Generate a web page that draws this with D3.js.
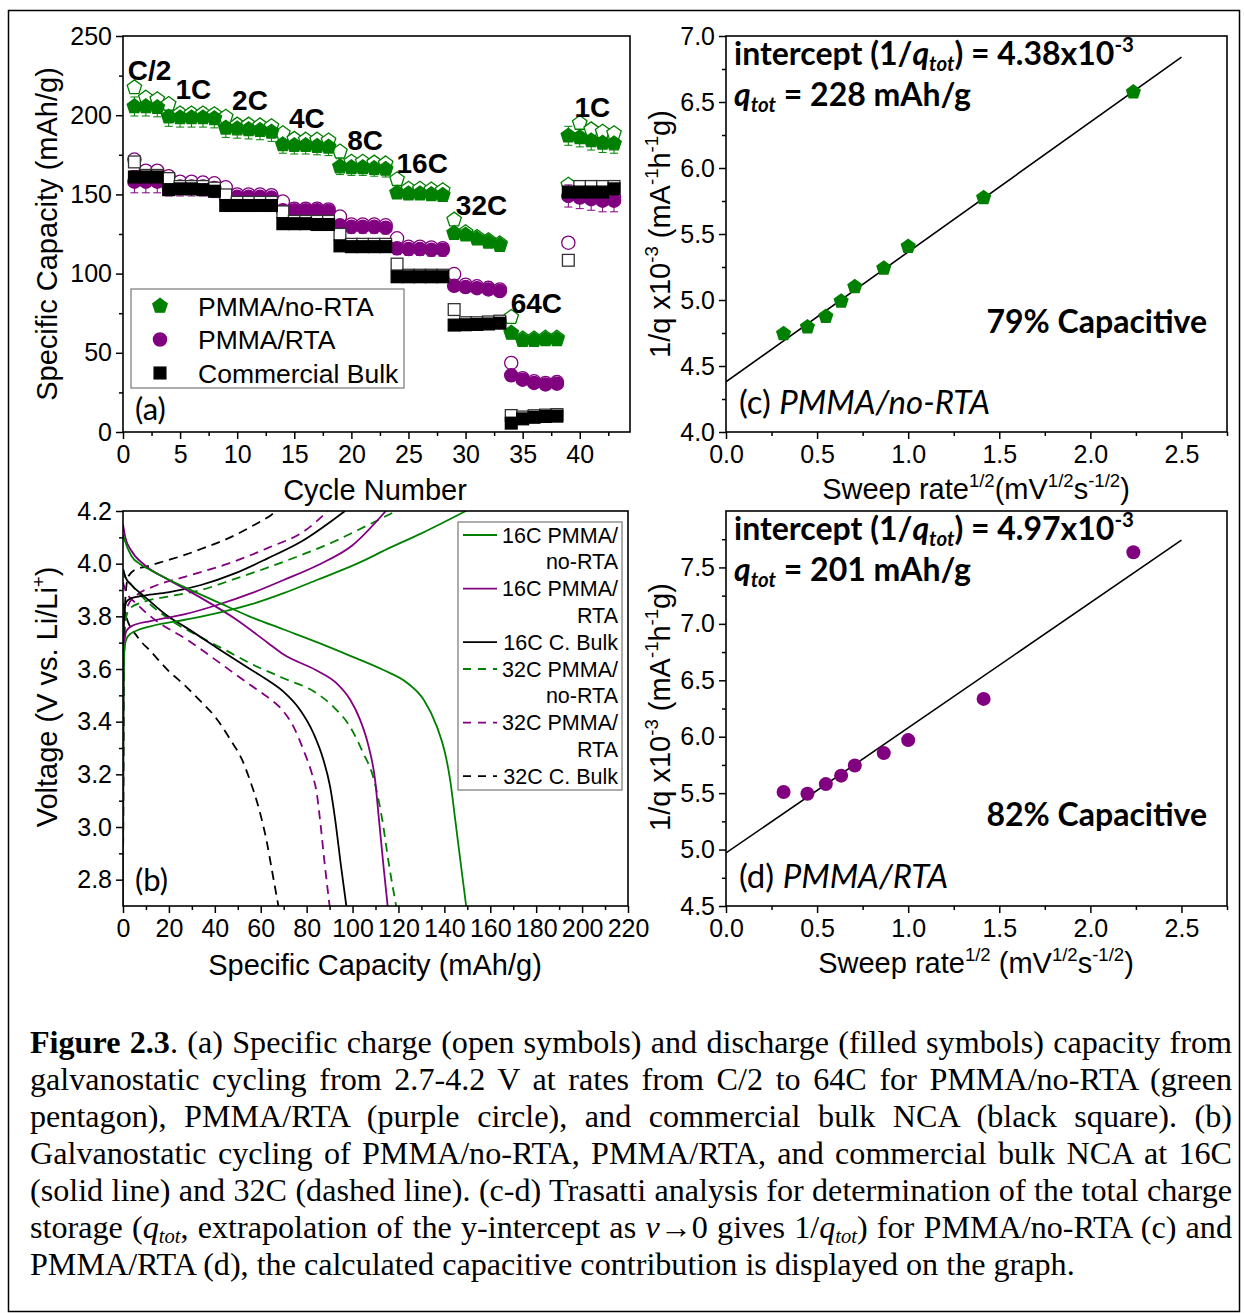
<!DOCTYPE html>
<html><head><meta charset="utf-8">
<script src="https://cdn.jsdelivr.net/npm/d3@7"></script>
<style>
body{margin:0;background:#fff;}
svg{display:block;}
</style></head><body>
<svg id="fig" width="1244" height="1313"></svg>
<script>
// ---------------- data ----------------
// (a) rate capability: cycles 1..43, charge (open) and discharge (filled) capacity, mAh/g
const cycles = d3.range(1, 44);
const rateNames = ['C/2', '1C', '2C', '4C', '8C', '16C', '32C', '64C', '1C'];
const rateFirstCycle = [1, 4, 9, 14, 19, 24, 29, 34, 39];

const noRtaDischarge = [205.5, 205.5, 205, 199, 198.5, 198.5, 198.5, 198, 192, 191.5, 191, 190.5, 189.5,
  181.5, 181, 181, 180.5, 180, 167.5, 167, 167, 166.5, 166, 151, 150.5, 150.5, 150, 149.5,
  125.5, 124.5, 122, 120, 118, 62.5, 58, 58, 58.5, 58.5, 187, 186, 184, 182.5, 182];
const noRtaCharge = [217.5, 211, 210, 207, 201, 201, 201, 200.5, 199, 194, 194, 193.5, 193,
  188.5, 185, 184.5, 184.5, 184, 177, 170.5, 170.5, 170, 169.5, 159.5, 153.5, 153.5, 153, 152.5,
  134, 126, 123, 121, 119, 72.5, 59, 59, 59.5, 59.5, 156, 195, 191, 189.5, 188.5];

const rtaDischarge = [158, 158, 158, 155, 155, 155, 155, 154, 148.5, 148.5, 148.5, 148.5, 148,
  140, 140, 140, 140, 139.5, 130.5, 129.5, 129.5, 129.5, 129, 116, 115.5, 115.5, 115, 115,
  92.3, 91.5, 90.8, 90, 89, 35.8, 33, 31, 30, 30.5, 149, 148, 147, 146, 146];
const rtaCharge = [172, 165, 165, 161.5, 158, 158, 157.5, 157, 154.5, 150, 150, 150, 149.5,
  145.5, 141, 141, 141, 140.5, 136, 131, 131, 131, 130.5, 122.3, 117, 117, 116.5, 116,
  99.7, 93, 92, 91, 90, 43.6, 34, 32, 31, 31.5, 119.5, 150, 149, 148, 148];

const bulkDischarge = [161, 161, 161, 153, 153.5, 153.5, 153, 152, 143, 143, 143, 143, 143,
  131.5, 131.5, 131.5, 131, 131, 117.5, 117, 117, 117, 117, 98, 98, 98, 98, 98,
  67.5, 67.7, 67.9, 68.2, 68.7, 5.6, 8.3, 9.3, 9.8, 10, 151.5, 151.5, 151.5, 151.5, 153.5];
const bulkCharge = [170.5, 162, 162, 160, 155, 155, 155, 154, 149.7, 145, 145, 145, 145,
  139, 133, 133, 133, 133, 124.8, 118.5, 118.5, 118.5, 118.5, 106, 99, 99, 99, 99,
  77.3, 69, 69, 69.5, 70, 10.4, 9.5, 10.3, 10.7, 11, 108.4, 155, 155, 155, 155];

// standard deviation per rate step (one value per rate in rateNames)
const noRtaErr = [6, 6, 6, 5.5, 5, 3, 2, 1.5, 6];
const rtaErr = [7, 6, 4.5, 4.5, 4, 4, 2, 2, 7];
const bulkErr = [3, 3, 3, 3, 3, 2, 1.5, 1, 3];

// (b) galvanostatic curves [capacity mAh/g, voltage V]
const c16NoRtaCharge = [[0,2.7],[0.15,3.4],[0.5,3.66],[1,3.7],[2.2,3.725],[6.5,3.748],[12,3.762],[27,3.787],[41,3.812],[56,3.846],[70,3.888],[85,3.94],[102,4.0],[115,4.055],[130,4.115],[149.4,4.2]];
const c16NoRtaDischarge = [[0,4.11],[0.7,4.09],[3.6,4.03],[8,3.995],[12,3.975],[27,3.91],[41,3.855],[55,3.80],[70,3.75],[85,3.70],[99,3.65],[113,3.598],[124,3.546],[131,3.483],[136.7,3.382],[140.3,3.281],[142.5,3.18],[144.7,3.03],[147.3,2.85],[149.5,2.7]];
const c16RtaCharge = [[0,2.7],[0.15,3.45],[0.6,3.7],[1.5,3.745],[3.6,3.762],[12,3.782],[27,3.808],[41,3.843],[56,3.888],[70,3.938],[85,3.995],[100,4.07],[114.5,4.2]];
const c16RtaDischarge = [[0,4.15],[1,4.1],[3.6,4.05],[9.4,3.995],[19.6,3.94],[34,3.87],[49,3.79],[63,3.70],[70,3.655],[84,3.596],[93,3.546],[99,3.483],[103.3,3.407],[107,3.306],[109.8,3.18],[111.5,3.03],[113.5,2.85],[115.3,2.7]];
const c16BulkCharge = [[0,2.7],[0.15,3.5],[0.5,3.8],[1.5,3.855],[3.6,3.869],[9.4,3.879],[19.6,3.891],[34,3.919],[48.7,3.963],[63,4.02],[77.7,4.084],[96.7,4.2]];
const c16BulkDischarge = [[0,3.98],[1,3.95],[3.6,3.92],[9.4,3.875],[19.6,3.8],[27,3.76],[41,3.68],[55.3,3.6],[62.6,3.56],[69.9,3.514],[77.1,3.445],[82.9,3.357],[87.3,3.255],[90.2,3.154],[92.4,3.03],[95,2.85],[97.3,2.7]];
const c32NoRtaCharge = [[0,2.7],[0.3,3.5],[1,3.78],[3,3.83],[9.4,3.856],[19.6,3.875],[34,3.9],[48.7,3.942],[63,3.985],[77.7,4.033],[92,4.084],[102.4,4.128],[119,4.2]];
const c32NoRtaDischarge = [[0,3.98],[1,3.95],[3.6,3.92],[10,3.86],[20,3.79],[34,3.72],[45,3.67],[55.3,3.622],[69.9,3.565],[84.4,3.508],[91.6,3.457],[98.9,3.381],[104.7,3.28],[109,3.19],[112.7,3.04],[116,2.85],[119,2.7]];
const c32RtaCharge = [[0,2.7],[0.3,3.5],[1,3.8],[2.2,3.843],[6.5,3.884],[12.3,3.91],[26.9,3.95],[45.8,4.0],[63.2,4.06],[79.2,4.125],[89.3,4.2]];
const c32RtaDischarge = [[0,3.93],[1,3.9],[6.5,3.843],[15,3.78],[26.9,3.717],[41.4,3.628],[55.3,3.54],[62.6,3.496],[69.9,3.439],[74.2,3.382],[78.6,3.293],[82.2,3.205],[84.4,3.129],[85.5,3.053],[88,2.85],[90,2.7]];
const c32BulkCharge = [[0,2.7],[0.2,3.5],[0.6,3.8],[2.2,3.95],[5,3.976],[10.2,3.989],[18.2,4.01],[26.9,4.033],[35.6,4.061],[45.8,4.096],[55.9,4.141],[64.6,4.185],[67,4.2]];
const c32BulkDischarge = [[0,3.85],[1,3.81],[6.5,3.72],[12.3,3.665],[19.6,3.595],[26.9,3.538],[34.1,3.475],[40,3.42],[46.4,3.337],[52.2,3.249],[55.6,3.17],[58.2,3.101],[60.4,3.03],[62.5,2.95],[65,2.83],[67.7,2.7]];

// (c), (d) Trasatti plots: sqrt(sweep rate) vs 1/q (x10^-3)
const sweepRootRate = [0.316, 0.447, 0.548, 0.632, 0.707, 0.866, 1.0, 1.414, 2.236];
const invQNoRta = [4.745, 4.795, 4.875, 4.99, 5.10, 5.24, 5.405, 5.775, 6.575];
const invQRta = [5.51, 5.495, 5.58, 5.655, 5.745, 5.855, 5.97, 6.335, 7.635];
const fitNoRta = {intercept: 4.38, slope: 0.984, xEnd: 2.5};
const fitRta = {intercept: 4.97, slope: 1.109, xEnd: 2.5};

// ---------------- drawing ----------------
const GREEN = '#008000', PURPLE = '#800080', BLACK = '#000000';
const SANS = '"Liberation Sans", Arial, sans-serif';
const HUMAN = 'Lato, "Open Sans", sans-serif';
const SERIF = '"Liberation Serif", "Times New Roman", serif';

const svg = d3.select('#fig');
svg.append('rect').attr('width', 1244).attr('height', 1313).attr('fill', '#fff');
svg.append('rect').attr('x', 8.5).attr('y', 10.5).attr('width', 1231).attr('height', 1301)
  .attr('fill', 'none').attr('stroke', '#000').attr('stroke-width', 1.5);

function pentagonPath(r) {
  const pts = d3.range(5).map(k => {
    const a = -Math.PI / 2 + k * 2 * Math.PI / 5;
    return [r * Math.cos(a), r * Math.sin(a)];
  });
  return 'M' + pts.map(p => p.join(',')).join('L') + 'Z';
}

// rich text helper: parts [{t, sup, sub, i, b}]
function rich(textSel, parts, size, subShift = 0.28) {
  let shift = 0;
  parts.forEach(p => {
    const target = p.sup ? -0.4 * size : p.sub ? subShift * size : 0;
    const ts = textSel.append('tspan').text(p.t);
    if (target - shift !== 0) ts.attr('dy', target - shift);
    shift = target;
    if (p.sup || p.sub) ts.attr('font-size', size * 0.64);
    if (p.i) ts.attr('font-style', 'italic');
    if (p.b) ts.attr('font-weight', 'bold');
  });
  return textSel;
}

function drawAxes(g, x, y, cfg) {
  const [x0, x1] = x.range();
  const [yb, yt] = y.range();
  const gx = g.append('g').attr('transform', `translate(0,${yb})`);
  gx.call(d3.axisBottom(x).tickValues(cfg.xMajor).tickSize(7).tickPadding(6).tickFormat(cfg.xFmt));
  gx.append('g').call(d3.axisBottom(x).tickValues(cfg.xMinor).tickSize(4).tickFormat(''));
  const gy = g.append('g').attr('transform', `translate(${x0},0)`);
  gy.call(d3.axisLeft(y).tickValues(cfg.yMajor).tickSize(7).tickPadding(4).tickFormat(cfg.yFmt));
  gy.append('g').call(d3.axisLeft(y).tickValues(cfg.yMinor).tickSize(4).tickFormat(''));
  [gx, gy].forEach(a => {
    a.attr('font-family', SANS).attr('font-size', 25);
    a.selectAll('.domain').remove();
    a.selectAll('line').attr('stroke', '#000').attr('stroke-width', 1.5);
    a.selectAll('text').attr('fill', '#000');
  });
  g.append('rect').attr('x', x0).attr('y', yt).attr('width', x1 - x0).attr('height', yb - yt)
    .attr('fill', 'none').attr('stroke', '#000').attr('stroke-width', 1.6);
}

function clipFor(id, x, y) {
  const [x0, x1] = x.range();
  const [yb, yt] = y.range();
  svg.append('clipPath').attr('id', id).append('rect')
    .attr('x', x0).attr('y', yt).attr('width', x1 - x0).attr('height', yb - yt);
  return `url(#${id})`;
}

// ---------- panel (a) ----------
{
  const x = d3.scaleLinear().domain([0, 44.4]).range([123, 630]);
  const y = d3.scaleLinear().domain([0, 250]).range([432, 36]);
  const g = svg.append('g');
  drawAxes(g, x, y, {
    xMajor: d3.range(0, 41, 5), xMinor: d3.range(2.5, 44, 5), xFmt: d3.format('d'),
    yMajor: d3.range(0, 251, 50), yMinor: d3.range(25, 250, 50), yFmt: d3.format('d')
  });

  const groupOf = c => d3.bisectRight(rateFirstCycle, c) - 1;
  const series = [
    {name: 'PMMA/no-RTA', color: GREEN, shape: 'pent', chg: noRtaCharge, dis: noRtaDischarge, err: noRtaErr},
    {name: 'PMMA/RTA', color: PURPLE, shape: 'circle', chg: rtaCharge, dis: rtaDischarge, err: rtaErr},
    {name: 'Commercial Bulk', color: BLACK, shape: 'square', chg: bulkCharge, dis: bulkDischarge, err: bulkErr}
  ];
  function marker(sel, shape, color, filled, size) {
    const fill = filled ? color : '#fff';
    const stroke = shape === 'square' && !filled ? '#333' : color;
    if (shape === 'pent') return sel.append('path').attr('d', pentagonPath(size)).attr('fill', fill).attr('stroke', stroke).attr('stroke-width', 1.3);
    if (shape === 'circle') return sel.append('circle').attr('r', size * 0.87).attr('fill', fill).attr('stroke', stroke).attr('stroke-width', 1.3);
    const s = size * 1.55;
    return sel.append('rect').attr('x', -s / 2).attr('y', -s / 2).attr('width', s).attr('height', s)
      .attr('fill', fill).attr('stroke', stroke).attr('stroke-width', 1.3);
  }
  const pts = g.append('g');
  series.forEach(s => {
    const sg = pts.append('g');
    // error bars on discharge capacity
    cycles.forEach((c, i) => {
      const e = s.err[groupOf(c)];
      const cx = x(c), ya = y(s.dis[i] + e), yb2 = y(s.dis[i] - e);
      const eb = sg.append('g').attr('stroke', s.color === BLACK ? '#666' : s.color).attr('stroke-width', 1);
      eb.append('line').attr('x1', cx).attr('x2', cx).attr('y1', ya).attr('y2', yb2);
      eb.append('line').attr('x1', cx - 4).attr('x2', cx + 4).attr('y1', ya).attr('y2', ya);
      eb.append('line').attr('x1', cx - 4).attr('x2', cx + 4).attr('y1', yb2).attr('y2', yb2);
    });
    cycles.forEach((c, i) => {
      marker(sg.append('g').attr('transform', `translate(${x(c)},${y(s.chg[i])})`), s.shape, s.color, false, 7.6);
    });
    cycles.forEach((c, i) => {
      marker(sg.append('g').attr('transform', `translate(${x(c)},${y(s.dis[i])})`), s.shape, s.color, true, 7.6);
    });
  });

  // rate labels, anchored in data coordinates (cycle, capacity)
  const rateLabelAt = [[2.32, 222], [6.17, 210], [11.12, 203], [16.1, 192], [21.2, 178], [26.2, 163.5], [31.4, 137], [36.2, 75], [41.1, 199]];
  rateNames.forEach((r, i) => {
    g.append('text').attr('x', x(rateLabelAt[i][0])).attr('y', y(rateLabelAt[i][1]))
      .attr('text-anchor', 'middle').attr('font-family', SANS).attr('font-weight', 'bold')
      .attr('font-size', 28).text(r);
  });

  // legend
  const lg = g.append('g');
  lg.append('rect').attr('x', 131).attr('y', 289).attr('width', 273).attr('height', 99)
    .attr('fill', '#fff').attr('stroke', '#777').attr('stroke-width', 1.2);
  series.forEach((s, i) => {
    const cy = 306 + i * 33.5;
    marker(lg.append('g').attr('transform', `translate(160,${cy})`), s.shape, s.color, true, 7.6);
    lg.append('text').attr('x', 198).attr('y', cy + 9.5).attr('font-family', SANS).attr('font-size', 26.5).text(s.name);
  });

  g.append('text').attr('x', 135).attr('y', 420).attr('font-family', HUMAN).attr('font-size', 31).text('(a)');
  g.append('text').attr('x', 375).attr('y', 500).attr('text-anchor', 'middle')
    .attr('font-family', SANS).attr('font-size', 29).text('Cycle Number');
  g.append('text').attr('transform', 'translate(57,234) rotate(-90)').attr('text-anchor', 'middle')
    .attr('font-family', SANS).attr('font-size', 29).text('Specific Capacity (mAh/g)');
}

// ---------- panel (b) ----------
{
  const x = d3.scaleLinear().domain([0, 220]).range([123, 628]);
  const y = d3.scaleLinear().domain([2.7, 4.2]).range([906, 511]);
  const g = svg.append('g');
  const clip = clipFor('clipB', x, y);
  const curves = [
    {label: ['16C PMMA/', 'no-RTA'], color: GREEN, dash: null, parts: [c16NoRtaCharge, c16NoRtaDischarge]},
    {label: ['16C PMMA/', 'RTA'], color: PURPLE, dash: null, parts: [c16RtaCharge, c16RtaDischarge]},
    {label: ['16C C. Bulk'], color: BLACK, dash: null, parts: [c16BulkCharge, c16BulkDischarge]},
    {label: ['32C PMMA/', 'no-RTA'], color: GREEN, dash: '9,6', parts: [c32NoRtaCharge, c32NoRtaDischarge]},
    {label: ['32C PMMA/', 'RTA'], color: PURPLE, dash: '9,6', parts: [c32RtaCharge, c32RtaDischarge]},
    {label: ['32C C. Bulk'], color: BLACK, dash: '9,6', parts: [c32BulkCharge, c32BulkDischarge]}
  ];
  const line = d3.line().x(d => x(d[0])).y(d => y(d[1])).curve(d3.curveMonotoneX);
  const cg = g.append('g').attr('clip-path', clip);
  curves.slice().reverse().forEach(c => {
    c.parts.forEach(p => {
      cg.append('path').attr('d', line(p)).attr('fill', 'none').attr('stroke', c.color)
        .attr('stroke-width', 1.8).attr('stroke-dasharray', c.dash);
    });
  });
  drawAxes(g, x, y, {
    xMajor: d3.range(0, 221, 20), xMinor: d3.range(10, 220, 20), xFmt: d3.format('d'),
    yMajor: d3.range(2.8, 4.21, 0.2), yMinor: d3.range(2.9, 4.2, 0.2), yFmt: d3.format('.1f')
  });

  // legend
  const lg = g.append('g');
  lg.append('rect').attr('x', 458).attr('y', 522).attr('width', 164).attr('height', 268)
    .attr('fill', '#fff').attr('stroke', '#777').attr('stroke-width', 1.2);
  let row = 0;
  curves.forEach(c => {
    const cy = 535 + row * 26.8;
    lg.append('line').attr('x1', 463).attr('x2', 497).attr('y1', cy).attr('y2', cy)
      .attr('stroke', c.color).attr('stroke-width', 1.8).attr('stroke-dasharray', c.dash ? '8,7' : null);
    c.label.forEach((t, k) => {
      lg.append('text').attr('x', 618).attr('y', 535 + (row + k) * 26.8 + 7.5).attr('text-anchor', 'end')
        .attr('font-family', SANS).attr('font-size', 21.5).text(t);
    });
    row += c.label.length;
  });

  g.append('text').attr('x', 135).attr('y', 891).attr('font-family', HUMAN).attr('font-size', 31).text('(b)');
  g.append('text').attr('x', 375).attr('y', 975).attr('text-anchor', 'middle')
    .attr('font-family', SANS).attr('font-size', 29).text('Specific Capacity (mAh/g)');
  rich(g.append('text').attr('transform', 'translate(57,697) rotate(-90)').attr('text-anchor', 'middle')
    .attr('font-family', SANS).attr('font-size', 29), [{t: 'Voltage (V vs. Li/Li'}, {t: '+', sup: 1}, {t: ')'}], 29);
}

// ---------- panels (c) and (d) ----------
function trasatti(cfg) {
  const x = d3.scaleLinear().domain([0, 2.75]).range([726, 1227]);
  const y = d3.scaleLinear().domain(cfg.yDomain).range(cfg.yRange);
  const g = svg.append('g');
  const clip = clipFor(cfg.id, x, y);
  drawAxes(g, x, y, {
    xMajor: d3.range(0, 2.51, 0.5), xMinor: d3.range(0.25, 2.76, 0.5), xFmt: d3.format('.1f'),
    yMajor: cfg.yMajor, yMinor: cfg.yMinor, yFmt: d3.format('.1f')
  });
  const f = cfg.fit;
  g.append('line').attr('clip-path', clip)
    .attr('x1', x(0)).attr('y1', y(f.intercept)).attr('x2', x(f.xEnd)).attr('y2', y(f.intercept + f.slope * f.xEnd))
    .attr('stroke', '#000').attr('stroke-width', 1.6);
  sweepRootRate.forEach((v, i) => {
    const t = `translate(${x(v)},${y(cfg.values[i])})`;
    if (cfg.shape === 'pent') g.append('path').attr('transform', t).attr('d', pentagonPath(8)).attr('fill', cfg.color);
    else g.append('circle').attr('transform', t).attr('r', 7).attr('fill', cfg.color);
  });
  const [yb, yt] = y.range();
  const fs = 32;
  rich(g.append('text').attr('x', 734).attr('y', yt + 29).attr('font-family', HUMAN).attr('font-weight', 'bold').attr('font-size', fs),
    [{t: 'intercept (1/'}, {t: 'q', i: 1}, {t: 'tot', i: 1, sub: 1}, {t: ') = ' + f.intercept.toFixed(2) + 'x10'}, {t: '-3', sup: 1}], fs, 0.2);
  rich(g.append('text').attr('x', 734).attr('y', yt + 70).attr('font-family', HUMAN).attr('font-weight', 'bold').attr('font-size', fs),
    [{t: 'q', i: 1}, {t: 'tot', i: 1, sub: 1}, {t: ' = ' + cfg.qtot + ' mAh/g'}], fs, 0.2);
  g.append('text').attr('x', 1207).attr('y', yt + cfg.capY).attr('text-anchor', 'end')
    .attr('font-family', HUMAN).attr('font-weight', 'bold').attr('font-size', fs).text(cfg.capacitive + '% Capacitive');
  rich(g.append('text').attr('x', 739).attr('y', yb - 18).attr('font-family', HUMAN).attr('font-size', 33),
    [{t: cfg.tag + ' '}, {t: cfg.name, i: 1}], 33);
  rich(g.append('text').attr('x', 976).attr('y', yb + 67).attr('text-anchor', 'middle').attr('font-family', SANS).attr('font-size', 29),
    [{t: 'Sweep rate'}, {t: '1/2', sup: 1}, {t: cfg.gap + '(mV'}, {t: '1/2', sup: 1}, {t: 's'}, {t: '-1/2', sup: 1}, {t: ')'}], 29);
  rich(g.append('text').attr('transform', `translate(670,${cfg.ylabelY}) rotate(-90)`).attr('text-anchor', 'middle')
    .attr('font-family', SANS).attr('font-size', 29),
    [{t: '1/q x10'}, {t: '-3', sup: 1}, {t: ' (mA'}, {t: '-1', sup: 1}, {t: 'h'}, {t: '-1', sup: 1}, {t: 'g)'}], 29);
}
trasatti({id: 'clipC', yDomain: [4, 7], yRange: [432, 36], yMajor: d3.range(4, 7.01, 0.5), yMinor: d3.range(4.25, 7, 0.5),
  fit: fitNoRta, values: invQNoRta, shape: 'pent', color: GREEN, qtot: 228, capacitive: 79, capY: 297,
  tag: '(c)', name: 'PMMA/no-RTA', gap: '', ylabelY: 234});
trasatti({id: 'clipD', yDomain: [4.5, 8], yRange: [906, 511], yMajor: d3.range(4.5, 7.51, 0.5), yMinor: d3.range(4.75, 8, 0.5),
  fit: fitRta, values: invQRta, shape: 'circle', color: PURPLE, qtot: 201, capacitive: 82, capY: 315,
  tag: '(d)', name: 'PMMA/RTA', gap: ' ', ylabelY: 707});

// ---------- caption ----------
const captionLines = [
  [{t: 'Figure 2.3', b: 1}, {t: '. (a) Specific charge (open symbols) and discharge (filled symbols) capacity from'}],
  [{t: 'galvanostatic cycling from 2.7-4.2 V at rates from C/2 to 64C for PMMA/no-RTA (green'}],
  [{t: 'pentagon), PMMA/RTA (purple circle), and commercial bulk NCA (black square). (b)'}],
  [{t: 'Galvanostatic cycling of PMMA/no-RTA, PMMA/RTA, and commercial bulk NCA at 16C'}],
  [{t: '(solid line) and 32C (dashed line). (c-d) Trasatti analysis for determination of the total charge'}],
  [{t: 'storage ('}, {t: 'q', i: 1}, {t: 'tot', i: 1, sub: 1}, {t: ', extrapolation of the y-intercept as '}, {t: 'v', i: 1},
   {t: '\u21920 gives 1/'}, {t: 'q', i: 1}, {t: 'tot', i: 1, sub: 1}, {t: ') for PMMA/no-RTA (c) and'}],
  [{t: 'PMMA/RTA (d), the calculated capacitive contribution is displayed on the graph.'}]
];
// size the caption so that the final (unjustified) line spans 1045 px, then justify the others to 1202 px
const capG = svg.append('g').attr('font-family', SERIF).attr('fill', '#000');
const probe = capG.append('text').attr('font-size', 28).text(captionLines[6][0].t);
const capSize = 28 * 1045 / probe.node().getComputedTextLength();
probe.remove();
capG.attr('font-size', capSize);
captionLines.forEach((parts, i) => {
  const t = capG.append('text').attr('x', 30).attr('y', 1053 + i * 37);
  rich(t, parts, capSize, 0.15);
  if (i < captionLines.length - 1) {
    const natural = t.node().getComputedTextLength();
    const spaces = parts.map(p => p.t).join('').split(' ').length - 1;
    t.attr('word-spacing', (1202 - natural) / spaces);
  }
});
</script>
</body></html>
